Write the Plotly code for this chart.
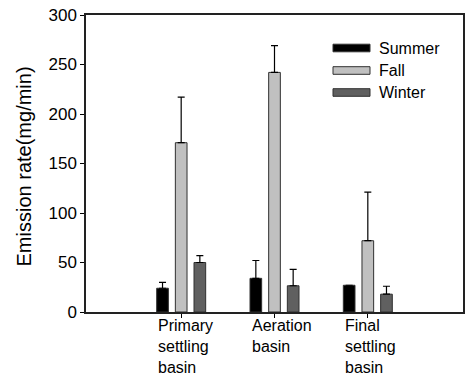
import plotly.graph_objects as go

categories = ["Primary<br>settling<br>basin", "Aeration<br>basin", "Final<br>settling<br>basin"]
cat_keys = ["Primary", "Aeration", "Final"]
seasons = ["Summer", "Fall", "Winter"]
summer = [24, 34, 27]
summer_err = [6, 18, None]
fall = [171, 242, 72]
fall_err = [46, 27, 49]
winter = [50, 26.5, 18]
winter_err = [7, 16.5, 8]
colors = ["#000000", "#c0c0c0", "#606060"]
y_ticks = [0, 50, 100, 150, 200, 250, 300]

W, H = 468, 380
L, T = 86, 15
R = W - L - 377
B = H - T - 297
FONT = "Arial, Liberation Sans, sans-serif"

fig = go.Figure()
for name, vals, errs, col in zip(seasons, [summer, fall, winter],
                                 [summer_err, fall_err, winter_err], colors):
    fig.add_trace(go.Bar(
        x=cat_keys, y=vals, name=name,
        marker=dict(color=col, line=dict(color="#303030", width=1)),
        error_y=dict(type="data", array=[e if e is not None else float("nan") for e in errs],
                     arrayminus=[0, 0, 0], symmetric=False,
                     color="#000000", thickness=1.2, width=3.5),
        showlegend=False,
    ))

fig.update_layout(
    width=W, height=H,
    margin=dict(l=L, r=R, t=T, b=B, autoexpand=False),
    paper_bgcolor="white", plot_bgcolor="white",
    barmode="group", bargap=0.4, bargroupgap=0.375,
    font=dict(family=FONT, size=16, color="#000000"),
    xaxis=dict(
        type="category", categoryorder="array", categoryarray=cat_keys,
        range=[-1.02, 3.02], showticklabels=False,
        ticks="outside", ticklen=4, tickcolor="#000000",
        showline=True, linecolor="#222222", linewidth=1.5, mirror=True,
        showgrid=False, zeroline=False, automargin=False,
    ),
    yaxis=dict(
        range=[0, 300], tickvals=y_ticks,
        ticks="outside", ticklen=4, tickcolor="#000000",
        tickfont=dict(size=17, family=FONT), ticklabeloverflow="allow",
        showline=True, linecolor="#222222", linewidth=1.5, mirror=True,
        showgrid=False, zeroline=False, automargin=False,
    ),
)

# y-axis title
fig.add_annotation(text="Emission rate(mg/min)", xref="paper", yref="paper",
                   x=0, y=0.49, xanchor="center", yanchor="middle", xshift=-62,
                   textangle=-90, showarrow=False, font=dict(size=20, family=FONT))

# x category labels (left-aligned multi-line)
for key, lab in zip(cat_keys, categories):
    fig.add_annotation(text=lab, x=key, xref="x", y=0, yref="paper",
                       xanchor="left", yanchor="top", xshift=-24, yshift=-4,
                       borderpad=0, align="left", showarrow=False,
                       font=dict(size=16, family=FONT))

# manual legend with wide swatches (positions given in page pixels)
pw, ph = 377, 297
def px_x(p):
    return (p - L) / pw
def px_y(p):
    return (T + ph - p) / ph

row_y = [48, 70.5, 92.5]
for name, col, ry in zip(seasons, colors, row_y):
    fig.add_shape(type="rect", xref="paper", yref="paper",
                  x0=px_x(333), x1=px_x(370), y0=px_y(ry + 3.8), y1=px_y(ry - 3.8),
                  fillcolor=col, line=dict(color="#303030", width=1))
    fig.add_annotation(text=name, xref="paper", yref="paper",
                       x=px_x(377), y=px_y(ry), xanchor="left", yanchor="middle",
                       showarrow=False, font=dict(size=16, family=FONT))

fig.write_html("out.html", config={"displayModeBar": False},
               post_script="document.body.style.margin='0';")
